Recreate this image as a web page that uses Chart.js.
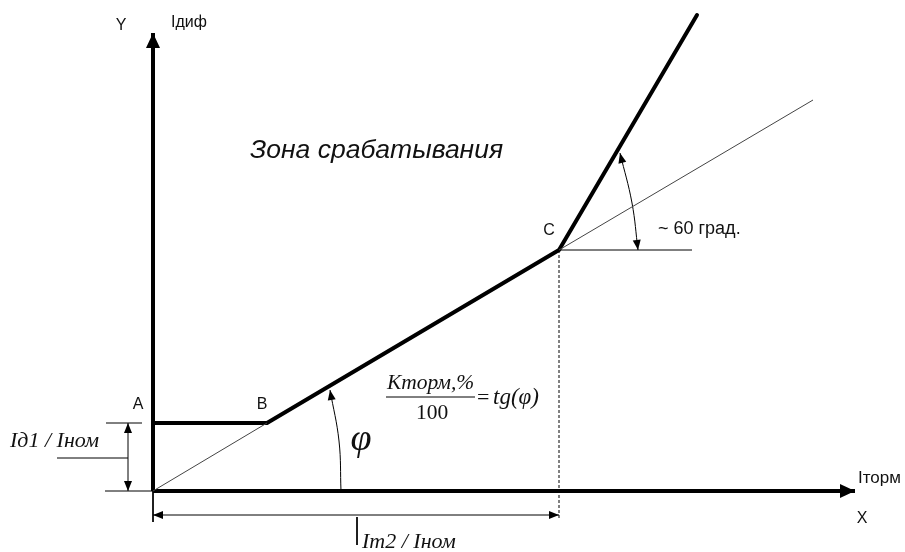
<!DOCTYPE html>
<html>
<head>
<meta charset="utf-8">
<script src="https://cdn.jsdelivr.net/npm/chart.js@4.4.1/dist/chart.umd.min.js"></script>
<style>
  html, body { margin: 0; padding: 0; background: #fff; }
  #wrap { width: 905px; height: 552px; }
</style>
</head>
<body>
<div id="wrap"><canvas id="diagram" width="905" height="552"></canvas></div>
<script>
// diagram units: origin at the axes crossing, x to the right, y upward
const axisX = [0, 702];          // Iторм axis
const axisXY = [0, 0];
const axisY = [0, 0];            // Iдиф axis
const axisYY = [0, 458];

// tripping characteristic A - B - C - end
const charX = [0, 114, 406, 544];
const charY = [68, 68, 241, 476];

// thin slope line from origin through B and C (hidden under B-C)
const slopeLowX = [0, 114];
const slopeLowY = [0, 68];
const slopeHighX = [406, 660];
const slopeHighY = [241, 391];

// horizontal reference at C and dashed drop line
const refCX = [406, 539];
const refCY = [241, 241];
const dropX = [406, 406];
const dropY = [241, -29];

// bottom dimension Iт2 / Iном
const dimBX = [0, 406];
const dimBY = [-24, -24];
const tickBX = [0, 0];
const tickBY = [0, -31];
const leadBX = [204, 204];
const leadBY = [-26, -54];

// left dimension Iд1 / Iном
const extTopX = [-47, -11];
const extTopY = [68, 68];
const extBotX = [-48, 0];
const extBotY = [0, 0];
const dimLX = [-25, -25];
const dimLY = [0, 68];
const leadLX = [-96, -25];
const leadLY = [33, 33];

// angle arcs
const arcPhiX = [188, 186, 177];
const arcPhiY = [0, 50, 101];
const arc60X = [467, 479, 485];
const arc60Y = [338, 288, 241];

// fraction bar of the formula
const fracX = [233, 322];
const fracY = [94, 94];

function pts(xs, ys) { return xs.map((x, i) => ({ x, y: ys[i] })); }

function seg(xs, ys, width, extra) {
    return Object.assign({
        data: pts(xs, ys),
        showLine: true,
        borderColor: '#000',
        borderWidth: width,
        pointRadius: 0,
        tension: 0,
        fill: false
    }, extra || {});
}

const arrowPlugin = {
    id: 'arrows',
    afterDatasetsDraw(chart) {
        const ctx = chart.ctx;
        const sx = chart.scales.x, sy = chart.scales.y;
        chart.data.datasets.forEach(ds => {
            const d = ds.data;
            const heads = [];
            if (ds.arrowEnd) heads.push([d[d.length - 1], d[d.length - 2], ds.arrowEnd]);
            if (ds.arrowStart) heads.push([d[0], d[1], ds.arrowStart]);
            heads.forEach(([tip, prev, size]) => {
                const tx = sx.getPixelForValue(tip.x), ty = sy.getPixelForValue(tip.y);
                const px = sx.getPixelForValue(prev.x), py = sy.getPixelForValue(prev.y);
                const a = Math.atan2(ty - py, tx - px);
                const [len, half] = size;
                ctx.save();
                ctx.fillStyle = '#000';
                ctx.beginPath();
                ctx.moveTo(tx, ty);
                ctx.lineTo(tx - len * Math.cos(a) + half * Math.sin(a), ty - len * Math.sin(a) - half * Math.cos(a));
                ctx.lineTo(tx - len * Math.cos(a) - half * Math.sin(a), ty - len * Math.sin(a) + half * Math.cos(a));
                ctx.closePath();
                ctx.fill();
                ctx.restore();
            });
        });
    }
};

const SANS = '"Liberation Sans", Arial, sans-serif';
const SERIF = '"Liberation Serif", "Times New Roman", serif';

const textPlugin = {
    id: 'texts',
    afterDraw(chart, args, opts) {
        const ctx = chart.ctx;
        const sx = chart.scales.x, sy = chart.scales.y;
        opts.items.forEach(t => {
            ctx.save();
            ctx.font = t.font;
            ctx.fillStyle = '#111';
            ctx.textAlign = t.align || 'left';
            ctx.textBaseline = 'alphabetic';
            ctx.fillText(t.text, sx.getPixelForValue(t.x), sy.getPixelForValue(t.y));
            ctx.restore();
        });
    }
};

const ctx = document.getElementById('diagram').getContext('2d');
new Chart(ctx, {
    type: 'scatter',
    data: {
        datasets: [
            seg(slopeLowX, slopeLowY, 1, { borderColor: '#444' }),
            seg(slopeHighX, slopeHighY, 1, { borderColor: '#444' }),
            seg(refCX, refCY, 1),
            seg(dropX, dropY, 1, { borderDash: [3, 2] }),
            seg(dimBX, dimBY, 1, { arrowStart: [10, 4], arrowEnd: [10, 4] }),
            seg(tickBX, tickBY, 1),
            seg(leadBX, leadBY, 1),
            seg(extTopX, extTopY, 1),
            seg(extBotX, extBotY, 1),
            seg(dimLX, dimLY, 1, { arrowStart: [10, 4], arrowEnd: [10, 4] }),
            seg(leadLX, leadLY, 1),
            seg(arcPhiX, arcPhiY, 1, { tension: 0.4, arrowEnd: [10, 4] }),
            seg(arc60X, arc60Y, 1, { tension: 0.4, arrowStart: [10, 4], arrowEnd: [10, 4] }),
            seg(fracX, fracY, 1),
            seg(axisX, axisXY, 4, { arrowEnd: [15, 7] }),
            seg(axisY, axisYY, 4, { arrowEnd: [15, 7] }),
            seg(charX, charY, 4, { borderJoinStyle: 'round', borderCapStyle: 'round' })
        ]
    },
    options: {
        responsive: false,
        animation: false,
        layout: { padding: 0 },
        plugins: {
            legend: { display: false },
            tooltip: { enabled: false },
            texts: {
                items: [
                    { text: 'Y', x: -32, y: 461, align: 'center', font: '16px ' + SANS },
                    { text: 'Iдиф', x: 18, y: 464, font: '16px ' + SANS },
                    { text: 'Зона срабатывания', x: 97, y: 333, font: 'italic 26.5px ' + SANS },
                    { text: 'C', x: 396, y: 256, align: 'center', font: '16px ' + SANS },
                    { text: '~ 60 град.', x: 505, y: 257, font: '18px ' + SANS },
                    { text: 'A', x: -15, y: 82, align: 'center', font: '16px ' + SANS },
                    { text: 'B', x: 109, y: 82, align: 'center', font: '16px ' + SANS },
                    { text: 'Кторм,%', x: 234, y: 102, font: 'italic 21.5px ' + SERIF },
                    { text: '100', x: 263, y: 72, font: '21.5px ' + SERIF },
                    { text: '=', x: 324, y: 87, font: '22px ' + SERIF },
                    { text: 'tg(φ)', x: 340, y: 87, font: 'italic 23px ' + SERIF },
                    { text: 'φ', x: 208, y: 41, align: 'center', font: 'italic 38px ' + SERIF },
                    { text: 'Iд1 / Iном', x: -143, y: 44, font: 'italic 22px ' + SERIF },
                    { text: 'Iторм', x: 705, y: 8, font: '17px ' + SANS },
                    { text: 'X', x: 709, y: -32, align: 'center', font: '16px ' + SANS },
                    { text: 'Iт2 / Iном', x: 209, y: -57, font: 'italic 22px ' + SERIF }
                ]
            }
        },
        scales: {
            x: { type: 'linear', min: -153, max: 752, display: false },
            y: { type: 'linear', min: -61, max: 491, display: false }
        }
    },
    plugins: [arrowPlugin, textPlugin]
});
</script>
</body>
</html>
